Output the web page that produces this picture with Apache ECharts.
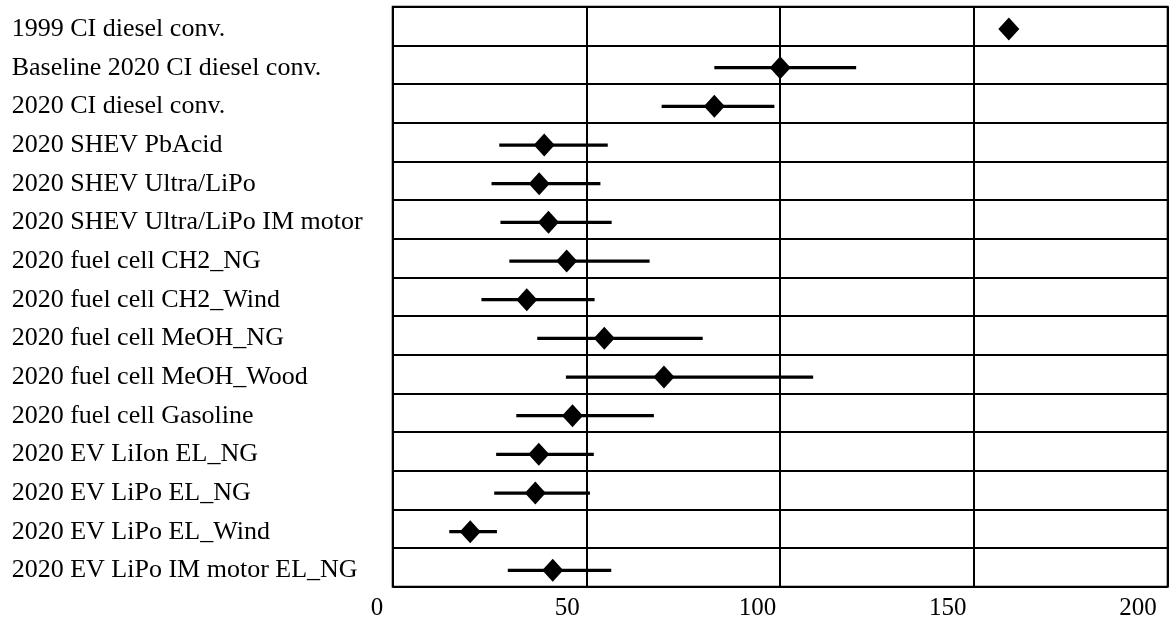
<!DOCTYPE html>
<html><head><meta charset="utf-8">
<script src="https://cdn.jsdelivr.net/npm/echarts@6/dist/echarts.min.js"></script>
<style>html,body{margin:0;padding:0;background:#fff}#c{width:1172px;height:621px}</style>
</head><body><div id="c"></div>
<script>
const categories = [
  '1999 CI diesel conv.',
  'Baseline 2020 CI diesel conv.',
  '2020 CI diesel conv.',
  '2020 SHEV PbAcid',
  '2020 SHEV Ultra/LiPo',
  '2020 SHEV Ultra/LiPo IM motor',
  '2020 fuel cell CH2_NG',
  '2020 fuel cell CH2_Wind',
  '2020 fuel cell MeOH_NG',
  '2020 fuel cell MeOH_Wood',
  '2020 fuel cell Gasoline',
  '2020 EV LiIon EL_NG',
  '2020 EV LiPo EL_NG',
  '2020 EV LiPo EL_Wind',
  '2020 EV LiPo IM motor EL_NG'
];
const meanValues = [159, 100, 83, 39.1, 37.8, 40.2, 44.9, 34.6, 54.6, 70.0, 46.4, 37.7, 36.8, 20.0, 41.3];
const lowValues  = [null, 83.0, 69.4, 27.5, 25.5, 27.8, 30.1, 22.9, 37.3, 44.7, 31.9, 26.7, 26.2, 14.6, 29.7];
const highValues = [null, 119.6, 98.5, 55.5, 53.6, 56.5, 66.3, 52.1, 80.0, 108.5, 67.4, 51.9, 50.9, 26.9, 56.4];
const xMin = 0, xMax = 200, xStep = 50;

const font = "'Liberation Serif', 'Times New Roman', serif";
const markShift = 3;
const errData = [];
categories.forEach((c, i) => {
  if (lowValues[i] != null) errData.push([lowValues[i], highValues[i], i]);
});
const meanData = meanValues.map((v, i) => [v, i]);

const chart = echarts.init(document.getElementById('c'));
chart.setOption({
  animation: false,
  backgroundColor: '#fff',
  grid: [
    {left: 392.7, right: 4.3, top: 6.7, bottom: 34.3, show: true, borderColor: '#000', borderWidth: 2, containLabel: false},
    {left: 377, right: 34, top: 6.7, bottom: 34.3, show: false, containLabel: false}
  ],
  xAxis: [
    {gridIndex: 0, type: 'value', min: xMin, max: xMax, interval: xStep,
     axisLine: {show: false}, axisTick: {show: false}, axisLabel: {show: false},
     splitLine: {show: true, lineStyle: {color: '#000', width: 2}}},
    {gridIndex: 1, type: 'value', min: xMin, max: xMax, interval: xStep,
     axisLine: {show: false}, axisTick: {show: false}, splitLine: {show: false},
     axisLabel: {color: '#000', fontFamily: font, fontSize: 25, margin: 9}}
  ],
  yAxis: [
    {gridIndex: 0, type: 'category', data: categories, inverse: true,
     axisLine: {show: false}, axisTick: {show: false},
     splitLine: {show: true, lineStyle: {color: '#000', width: 2}},
     axisLabel: {color: '#000', fontFamily: font, fontSize: 26, align: 'left', margin: 381, interval: 0,
                 verticalAlign: 'top', lineHeight: 6}},
    {gridIndex: 1, type: 'value', show: false}
  ],
  series: [
    {
      type: 'custom', xAxisIndex: 0, yAxisIndex: 0, z: 2,
      data: errData,
      encode: {x: [0, 1], y: 2},
      renderItem: function (params, api) {
        const p1 = api.coord([api.value(0), api.value(2)]);
        const p2 = api.coord([api.value(1), api.value(2)]);
        return {type: 'line',
          shape: {x1: p1[0], y1: p1[1] + markShift, x2: p2[0], y2: p2[1] + markShift},
          style: {stroke: '#000', lineWidth: 3.2, lineCap: 'butt'}};
      }
    },
    {
      type: 'scatter', xAxisIndex: 0, yAxisIndex: 0, z: 3,
      data: meanData, symbol: 'diamond', symbolSize: [21, 23], symbolOffset: [0, markShift],
      itemStyle: {color: '#000', opacity: 1}
    }
  ]
});
</script></body></html>
